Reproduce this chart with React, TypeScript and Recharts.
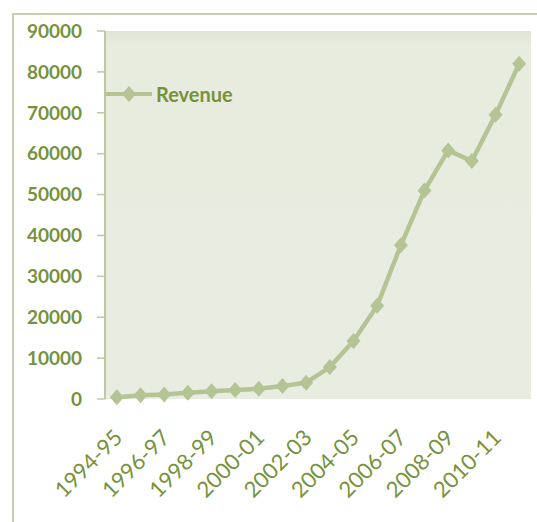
import React from 'react'
import { LineChart, Line, XAxis, YAxis, CartesianGrid, Legend } from 'recharts'

const YEARS = [
  '1994-95', '1995-96', '1996-97', '1997-98', '1998-99', '1999-00',
  '2000-01', '2001-02', '2002-03', '2003-04', '2004-05', '2005-06',
  '2006-07', '2007-08', '2008-09', '2009-10', '2010-11', '2011-12',
]
const REVENUE = [
  400, 900, 1100, 1500, 1900, 2200, 2500, 3200, 4000, 7800,
  14200, 22800, 37600, 51000, 60800, 58200, 69500, 82000,
]
const Y_TICKS = [0, 10000, 20000, 30000, 40000, 50000, 60000, 70000, 80000, 90000]
const BOUNDARY_TICKS = [0, 1, 2, 3, 4, 5, 6, 7, 8, 9, 10, 11, 12, 13, 14, 15, 16, 17, 18]

const TEXT = '#76923C'
const LINE = '#B4C494'
const AXIS = '#BCC9A2'
const FRAME = '#C5D1AE'
const FONT = 'Lato, "Open Sans", sans-serif'

const data = YEARS.map((year, i) => ({ year, revenue: REVENUE[i] }))

function Diamond(props: any) {
  const { cx, cy } = props
  if (cx == null || cy == null) return null
  return <path d={`M${cx},${cy - 8}L${cx + 7},${cy}L${cx},${cy + 8}L${cx - 7},${cy}Z`} fill={LINE} />
}

function renderLegend(props: any) {
  const item = props.payload && props.payload[0]
  return (
    <div style={{ display: 'flex', alignItems: 'center' }}>
      <svg width={48} height={20}>
        <line x1={1} y1={10} x2={47} y2={10} stroke={LINE} strokeWidth={4} />
        <path d="M24,2L31,10L24,18L17,10Z" fill={LINE} />
      </svg>
      <span style={{ color: TEXT, fontWeight: 700, fontSize: 20, fontFamily: FONT, marginLeft: 3 }}>
        {item ? item.value : 'Revenue'}
      </span>
    </div>
  )
}

export default function App() {
  return (
    <div style={{ position: 'absolute', left: 0, top: 0, width: 537, height: 522, background: '#fff' }}>
      <div
        style={{
          position: 'absolute',
          left: 12,
          top: 13,
          width: 525,
          height: 509,
          borderTop: `2px solid ${FRAME}`,
          borderLeft: `2px solid ${FRAME}`,
          boxSizing: 'border-box',
        }}
      />
      <div style={{ position: 'absolute', left: 0, top: 0 }}>
        <LineChart width={537} height={522} data={data} margin={{ top: 31, right: 6, left: 0, bottom: 0 }}>
          <defs>
            <linearGradient id="plotBg" x1="0" y1="0" x2="0" y2="1">
              <stop offset="0%" stopColor="#DFE5D2" />
              <stop offset="4%" stopColor="#E8ECDF" />
              <stop offset="100%" stopColor="#E9EDE1" />
            </linearGradient>
          </defs>
          <CartesianGrid horizontal={false} vertical={false} fill="url(#plotBg)" />
          <XAxis
            xAxisId="grid"
            type="number"
            domain={[0, 18]}
            allowDataOverflow
            ticks={BOUNDARY_TICKS}
            interval={0}
            tick={false}
            height={0}
            tickSize={7}
            axisLine={{ stroke: AXIS, strokeWidth: 2 }}
            tickLine={{ stroke: AXIS, strokeWidth: 1.5 }}
          />
          <XAxis
            xAxisId="cat"
            dataKey="year"
            scale="band"
            interval={1}
            angle={-45}
            textAnchor="end"
            height={123}
            tickLine={false}
            axisLine={false}
            tickSize={6}
            tickMargin={23}
            dx={-4}
            tick={{ fill: TEXT, fontSize: 22, fontFamily: FONT }}
          />
          <YAxis
            domain={[0, 90000]}
            ticks={Y_TICKS}
            interval={0}
            width={105}
            tickSize={8}
            tickMargin={15}
            axisLine={{ stroke: AXIS, strokeWidth: 2 }}
            tickLine={{ stroke: AXIS, strokeWidth: 1.5 }}
            tick={{ fill: TEXT, fontSize: 19, fontWeight: 700, fontFamily: FONT }}
          />
          <Legend
            layout="vertical"
            align="center"
            verticalAlign="middle"
            content={renderLegend}
            wrapperStyle={{ left: 105, top: 82, width: 'auto' }}
          />
          <Line
            xAxisId="cat"
            type="linear"
            dataKey="revenue"
            name="Revenue"
            stroke={LINE}
            strokeWidth={4.5}
            dot={<Diamond />}
            activeDot={false}
            isAnimationActive={false}
          />
        </LineChart>
      </div>
    </div>
  )
}
